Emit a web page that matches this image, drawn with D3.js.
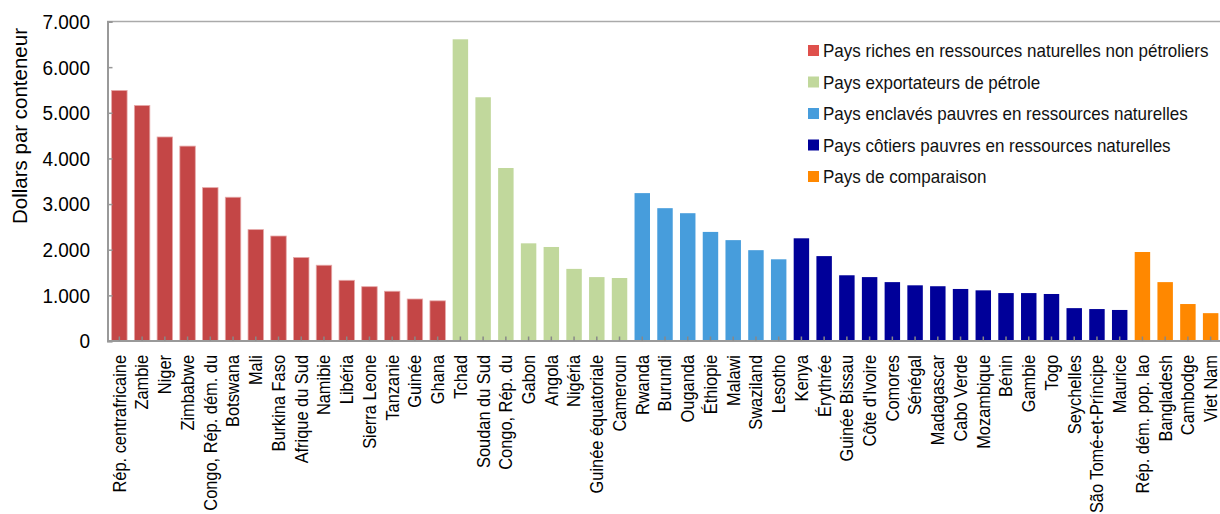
<!DOCTYPE html>
<html><head><meta charset="utf-8">
<script src="https://cdn.jsdelivr.net/npm/d3@7"></script>
<style>
html,body{margin:0;padding:0;background:#fff;}
svg{display:block;font-family:"Liberation Sans",Arial,sans-serif;}
</style></head>
<body><svg id="c" width="1220" height="514"></svg>
<script>
const countries = ["Rép. centrafricaine","Zambie","Niger","Zimbabwe","Congo, Rép. dém. du","Botswana","Mali","Burkina Faso","Afrique du Sud","Namibie","Libéria","Sierra Leone","Tanzanie","Guinée","Ghana",
"Tchad","Soudan du Sud","Congo, Rép. du","Gabon","Angola","Nigéria","Guinée équatoriale","Cameroun",
"Rwanda","Burundi","Ouganda","Éthiopie","Malawi","Swaziland","Lesotho",
"Kenya","Érythrée","Guinée Bissau","Côte d'Ivoire","Comores","Sénégal","Madagascar","Cabo Verde","Mozambique","Bénin","Gambie","Togo","Seychelles","São Tomé-et-Príncipe","Maurice",
"Rép. dém. pop. lao","Bangladesh","Cambodge","Viet Nam"];
const values = [5490,5160,4470,4270,3360,3150,2440,2300,1830,1660,1330,1190,1090,920,880,
6610,5340,3790,2140,2060,1580,1400,1380,
3240,2910,2800,2390,2210,1990,1790,
2250,1860,1440,1400,1290,1220,1200,1140,1110,1050,1050,1030,720,700,680,
1950,1290,810,610];
const groupOf = [0,0,0,0,0,0,0,0,0,0,0,0,0,0,0,
1,1,1,1,1,1,1,1,
2,2,2,2,2,2,2,
3,3,3,3,3,3,3,3,3,3,3,3,3,3,3,
4,4,4,4];
const groups = ["Pays riches en ressources naturelles non pétroliers","Pays exportateurs de pétrole","Pays enclavés pauvres en ressources naturelles","Pays côtiers pauvres en ressources naturelles","Pays de comparaison"];
const barColors = ["#C44646","#C1D89C","#479DDC","#000099","#FF8800"];
const legendColors = ["#DF504C","#C1D89C","#479DDC","#000099","#FF8800"];
const yTicks = [0,1000,2000,3000,4000,5000,6000,7000];
const yTitle = "Dollars par conteneur";

const svg = d3.select("#c");
const x = d3.scaleBand().domain(countries).range([108,1222]).paddingInner(0.32).paddingOuter(0.16);
const y = d3.scaleLinear().domain([0,7000]).range([341,21.5]);
const fmt = v => v===0 ? "0" : d3.format(",")(v).replace(/,/g,".");
const tall = "scale(1,1.08)";

// top border
svg.append("line").attr("x1",107).attr("x2",1220).attr("y1",21.5).attr("y2",21.5)
  .attr("stroke","#aaa").attr("stroke-width",1.5);

// bars
svg.append("g").selectAll("rect").data(countries).join("rect")
  .attr("x",d=>x(d)).attr("width",x.bandwidth())
  .attr("y",(d,i)=>y(values[i])).attr("height",(d,i)=>y(0)-y(values[i]))
  .attr("fill",(d,i)=>barColors[groupOf[i]])
  .attr("stroke",(d,i)=>groupOf[i]===0?"#e6a8a8":"none").attr("stroke-width",0.8);

// y axis
const ya = svg.append("g").attr("transform","translate(107.5,0)")
  .call(d3.axisRight(y).tickValues(yTicks).tickSize(5).tickFormat(""));
ya.select(".domain").attr("stroke","#999").attr("stroke-width",2);
ya.selectAll(".tick line").attr("stroke","#999").attr("stroke-width",1.5);
svg.append("g").selectAll("text").data(yTicks).join("text")
  .attr("transform",d=>`translate(90,${y(d)}) ${tall}`)
  .attr("dy","0.36em").attr("text-anchor","end")
  .attr("font-size",19).attr("fill","#000").text(fmt);

// x axis
const xa = svg.append("g").attr("transform","translate(0,340.5)")
  .call(d3.axisTop(x).tickSize(4).tickSizeOuter(0).tickFormat(""));
xa.select(".domain").attr("stroke","#999").attr("stroke-width",2);
xa.selectAll(".tick line").attr("stroke","#888").attr("stroke-width",1.5);
svg.append("g").selectAll("text").data(countries).join("text")
  .attr("transform",d=>`translate(${x(d)+x.bandwidth()/2},355) rotate(-90) ${tall}`)
  .attr("dy","0.36em").attr("text-anchor","end")
  .attr("font-size",16.4).attr("fill","#000").text(d=>d);

// y title
svg.append("text").attr("transform","translate(20,126) rotate(-90)")
  .attr("dy","0.36em").attr("text-anchor","middle").attr("font-size",20.5).text(yTitle);

// legend
const lg = svg.append("g").selectAll("g").data(groups).join("g")
  .attr("transform",(d,i)=>`translate(808,${50.5+i*31.5})`);
lg.append("rect").attr("x",0).attr("y",-5.5).attr("width",11).attr("height",11)
  .attr("fill",(d,i)=>legendColors[i]);
lg.append("text").attr("transform",`translate(15,0) ${tall}`).attr("dy","0.36em")
  .attr("font-size",17).attr("fill","#111").text(d=>d);
</script></body></html>
